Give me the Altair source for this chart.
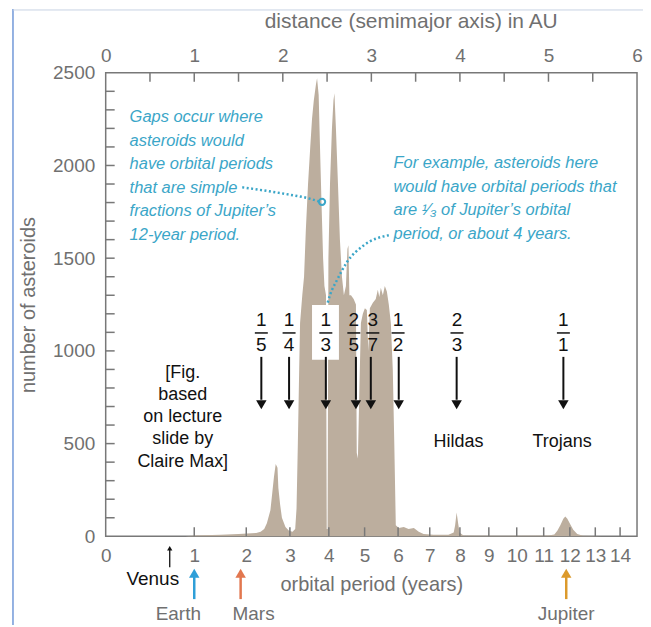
import altair as alt
import pandas as pd

GRAY = "#707070"
FRAME = "#787878"
TAN = "#bcae9e"
BLUE = "#3ba6c8"
FONT = "Liberation Sans"

W, H = 533, 465

# ---- histogram: semimajor axis (AU) vs number of asteroids
hist_au = [0.90, 1.00, 1.30, 1.50, 1.70, 1.75, 1.79, 1.82, 1.86, 1.88,
           1.90, 1.92, 1.94, 1.95, 1.97, 1.99, 2.03, 2.07, 2.11, 2.14,
           2.155, 2.17, 2.185, 2.195, 2.22, 2.24, 2.26, 2.285, 2.31, 2.33,
           2.35, 2.375, 2.387, 2.405, 2.42, 2.437, 2.455, 2.47, 2.488, 2.496,
           2.506, 2.515, 2.533, 2.555, 2.572, 2.583, 2.60, 2.623, 2.645, 2.668,
           2.69, 2.713, 2.73, 2.741, 2.752, 2.77, 2.80, 2.826, 2.835, 2.848,
           2.865, 2.882, 2.904, 2.927, 2.949, 2.966, 2.983, 3.017, 3.05, 3.073,
           3.09, 3.107, 3.13, 3.152, 3.175, 3.197, 3.22, 3.242, 3.259, 3.276,
           3.31, 3.366, 3.42, 3.48, 3.535, 3.59, 3.70, 3.87, 3.93, 3.946,
           3.963, 3.98, 3.996, 4.04, 4.43, 5.00, 5.066, 5.10, 5.134, 5.168,
           5.19, 5.213, 5.246, 5.28, 5.325, 5.39, 5.60]
hist_count = [0, 5, 8, 12, 18, 25, 40, 70, 140, 230,
              320, 390, 370, 260, 170, 100, 50, 30, 25, 40,
              150, 500, 900, 1150, 1300, 1400, 1650, 1900, 2100, 2250,
              2350, 2440, 2470, 2380, 2100, 1800, 1500, 1350, 1300, 40,
              40, 1500, 1900, 2200, 2350, 2390, 2200, 1900, 1600, 1400,
              1300, 1350, 1550, 1570, 1300, 1300, 1280, 1250, 450, 420,
              800, 1150, 1200, 1230, 1220, 1000, 1230, 1260, 1280, 1330,
              1290, 1340, 1300, 1350, 1320, 1250, 1150, 900, 500, 60,
              45, 50, 40, 45, 25, 12, 8, 8, 20, 60,
              128, 70, 20, 5, 3, 5, 10, 30, 60, 95,
              107, 95, 65, 35, 12, 3, 0]

# ---- axes
au_labels = [0, 1, 2, 3, 4, 5, 6]
au_ticks = [0.5, 1, 1.5, 2, 2.5, 3, 3.5, 4, 4.5, 5, 5.5]
count_labels = [0, 500, 1000, 1500, 2000, 2500]
count_ticks = list(range(100, 2500, 100))
period_labels = list(range(0, 15))
period_ticks = list(range(1, 15))

# ---- resonances with Jupiter (positions on the orbital-period axis)
res_num = ["1", "1", "1", "2", "3", "1", "2", "1"]
res_den = ["5", "4", "3", "5", "7", "2", "3", "1"]
res_period = [2.33, 2.98, 3.92, 4.75, 5.18, 6.02, 7.89, 11.75]
res_label_period = [2.33, 2.98, 3.92, 4.69, 5.24, 6.0, 7.9, 11.75]

group_names = ["Hildas", "Trojans"]
group_period = [7.95, 11.7]

planet_names = ["Venus", "Earth", "Mars", "Jupiter"]
planet_period = [0.615, 1.0, 1.881, 11.86]
planet_colors = ["#111111", "#2f9fd8", "#e2774f", "#dc9a2c"]

# ---- annotations (data units)
note_left = "Gaps occur where\nasteroids would\nhave orbital periods\nthat are simple\nfractions of Jupiter\u2019s\n12-year period."
note_right = "For example, asteroids here\nwould have orbital periods that\nare \u00b9\u2044\u2083 of Jupiter\u2019s orbital\nperiod, or about 4 years."
note_au = [0.27, 3.25]
note_n = [2259, 2011]
credit = "[Fig.\nbased\non lecture\nslide by\nClaire Max]"
credit_au = [0.87]
credit_n = [882]

curve1_au = [1.542, 1.79, 2.071, 2.296, 2.409]
curve1_n = [1882, 1865, 1843, 1822, 1806]
curve2_au = [3.197, 2.916, 2.724, 2.612, 2.533, 2.499]
curve2_n = [1624, 1570, 1478, 1382, 1301, 1247]
circle_au = [2.443]
circle_n = [1804]
box_au = [2.33, 2.634]
box_n = [952, 1247]

xa = alt.Scale(domain=[0, 6], nice=False, zero=False)
ys = alt.Scale(domain=[0, 2500], nice=False, zero=False)
xp = alt.Scale(type="pow", exponent=2 / 3, domain=[0, 14.697], nice=False, zero=False)

axis_common = dict(tickSize=0, domain=False, grid=False, format="d",
                   labelFont=FONT, labelFontSize=19, labelColor=GRAY,
                   labelFlush=False, labelOverlap=False,
                   titleFont=FONT, titleFontSize=20, titleFontWeight="normal",
                   titleColor=GRAY)

AX_TOP = alt.Axis(orient="top", values=au_labels, title="distance (semimajor axis) in AU",
                  labelPadding=7, titlePadding=15, titleX=159, titleAlign="left",
                  **{**axis_common, "titleFontSize": 21})
AX_LEFT = alt.Axis(orient="left", values=count_labels, title="number of asteroids",
                   labelPadding=11, titlePadding=14, **axis_common)
AX_BOTTOM = alt.Axis(orient="bottom", values=period_labels, title="orbital period (years)",
                     labelPadding=10, titlePadding=9, **axis_common)


def XA(field="a"):
    return alt.X(f"{field}:Q", scale=xa, axis=AX_TOP)


def YS(field="n"):
    return alt.Y(f"{field}:Q", scale=ys, axis=AX_LEFT)


def XP(field="p"):
    return alt.X(f"{field}:Q", scale=xp, axis=AX_BOTTOM)


# ================= group A : AU scale =================
hist = alt.Chart(pd.DataFrame({"a": hist_au, "n": hist_count})).mark_area(
    color=TAN, interpolate="linear").encode(x=XA(), y=YS())

top_ticks = alt.Chart(pd.DataFrame({"a": au_ticks})).mark_rule(
    color=FRAME, strokeWidth=1.5).encode(x=XA(), y=alt.value(0), y2=alt.value(9))

left_ticks = alt.Chart(pd.DataFrame({"n": count_ticks})).mark_rule(
    color=FRAME, strokeWidth=1.5).encode(y=YS(), x=alt.value(0), x2=alt.value(9))

box = alt.Chart(pd.DataFrame({"a1": [box_au[0]], "a2": [box_au[1]],
                              "n1": [box_n[0]], "n2": [box_n[1]]})).mark_rect(
    color="white").encode(x=XA("a1"), x2="a2", y=YS("n1"), y2="n2")

notes = alt.Chart(pd.DataFrame({"a": note_au, "n": note_n,
                                "t": [note_left, note_right]})).mark_text(
    align="left", baseline="middle", font=FONT, fontStyle="italic",
    fontSize=16.5, color=BLUE, lineBreak="\n", lineHeight=23.5).encode(
    x=XA(), y=YS(), text="t:N")

curves = alt.Chart(pd.DataFrame({
    "a": curve1_au + curve2_au, "n": curve1_n + curve2_n,
    "id": ["c1"] * len(curve1_au) + ["c2"] * len(curve2_au),
    "o": list(range(len(curve1_au))) + list(range(len(curve2_au)))})).mark_line(
    color=BLUE, strokeWidth=2.5, strokeDash=[2, 2.5], interpolate="monotone").encode(
    x=XA(), y=YS(), detail="id:N", order="o:Q")

circ = alt.Chart(pd.DataFrame({"a": circle_au, "n": circle_n})).mark_point(
    shape="circle", filled=False, size=40, strokeWidth=2, color=BLUE,
    opacity=1).encode(x=XA(), y=YS())

credit_txt = alt.Chart(pd.DataFrame({"a": credit_au, "n": credit_n,
                                     "t": [credit]})).mark_text(
    align="center", baseline="middle", font=FONT, fontSize=18, color="#111111",
    lineBreak="\n", lineHeight=22.3).encode(x=XA(), y=YS(), text="t:N")

border = alt.Chart(pd.DataFrame({"k": [0]})).mark_rule(
    color="#4f7fcf", strokeWidth=1.2).encode(
    x=alt.value(-93), y=alt.value(-64), y2=alt.value(H + 90))
border_top = alt.Chart(pd.DataFrame({"k": [0]})).mark_rule(
    color="#c8d3e3", strokeWidth=1).encode(
    x=alt.value(-93), x2=alt.value(W + 10), y=alt.value(-63))

groupA = alt.layer(hist, top_ticks, left_ticks, box, notes, curves, circ,
                   credit_txt, border, border_top)

# ================= group B : orbital period scale =================
bottom_ticks = alt.Chart(pd.DataFrame({"p": period_ticks})).mark_rule(
    color=FRAME, strokeWidth=1.5).encode(x=XP(), y=alt.value(H), y2=alt.value(H - 9))

res_df = pd.DataFrame({"p": res_period, "q": res_label_period,
                       "num": res_num, "den": res_den})
res_base = alt.Chart(res_df)
num_txt = res_base.mark_text(font=FONT, fontSize=19, color="#111111",
                             baseline="middle").encode(x=XP("q"), y=alt.value(248), text="num:N")
den_txt = res_base.mark_text(font=FONT, fontSize=19, color="#111111",
                             baseline="middle").encode(x=XP("q"), y=alt.value(273), text="den:N")
bars = res_base.mark_tick(orient="horizontal", size=13, thickness=1.5,
                          color="#111111", opacity=1).encode(x=XP("q"), y=alt.value(261))
shafts = res_base.mark_rule(color="#111111", strokeWidth=2).encode(
    x=XP(), y=alt.value(285), y2=alt.value(328))
heads = res_base.mark_point(shape="triangle-down", filled=True, size=110,
                            color="#111111", opacity=1).encode(x=XP(), y=alt.value(333))

groups = alt.Chart(pd.DataFrame({"p": group_period, "t": group_names})).mark_text(
    font=FONT, fontSize=18, color="#111111", baseline="middle").encode(
    x=XP(), y=alt.value(370), text="t:N")

pl_df = pd.DataFrame({"p": planet_period, "t": planet_names, "c": planet_colors})
venus = alt.Chart(pl_df.iloc[[0]])
outer = alt.Chart(pl_df.iloc[1:])
venus_shaft = venus.mark_rule(strokeWidth=1.3).encode(
    x=XP(), y=alt.value(478), y2=alt.value(496), color=alt.Color("c:N", scale=None))
venus_head = venus.mark_point(shape="triangle-up", filled=True, size=28, opacity=1).encode(
    x=XP(), y=alt.value(477), color=alt.Color("c:N", scale=None))
outer_shaft = outer.mark_rule(strokeWidth=2.5).encode(
    x=XP(), y=alt.value(503), y2=alt.value(528), color=alt.Color("c:N", scale=None))
outer_head = outer.mark_point(shape="triangle-up", filled=True, size=110, opacity=1).encode(
    x=XP(), y=alt.value(502), color=alt.Color("c:N", scale=None))

venus_lbl = venus.mark_text(font=FONT, fontSize=19, color="#111111", dx=-17,
                            baseline="middle").encode(x=XP(), y=alt.value(508), text="t:N")
label_dx = {"Earth": -16, "Mars": 13, "Jupiter": 0}
outer_lbls = [alt.Chart(pl_df[pl_df.t == name]).mark_text(
    font=FONT, fontSize=19, color=GRAY, dx=dx, baseline="middle").encode(
    x=XP(), y=alt.value(543), text="t:N") for name, dx in label_dx.items()]

groupB = alt.layer(bottom_ticks, num_txt, den_txt, bars, shafts, heads, groups,
                   venus_shaft, venus_head, outer_shaft, outer_head, venus_lbl,
                   *outer_lbls)

chart = alt.layer(groupA, groupB).resolve_scale(x="independent").properties(
    width=W, height=H,
    autosize=alt.AutoSizeParams(type="none"),
    padding={"left": 98, "top": 64, "right": 6, "bottom": 88},
).configure_view(stroke=FRAME, strokeWidth=1.5)

chart.save("out.html", embed_options={"renderer": "svg", "actions": False})
